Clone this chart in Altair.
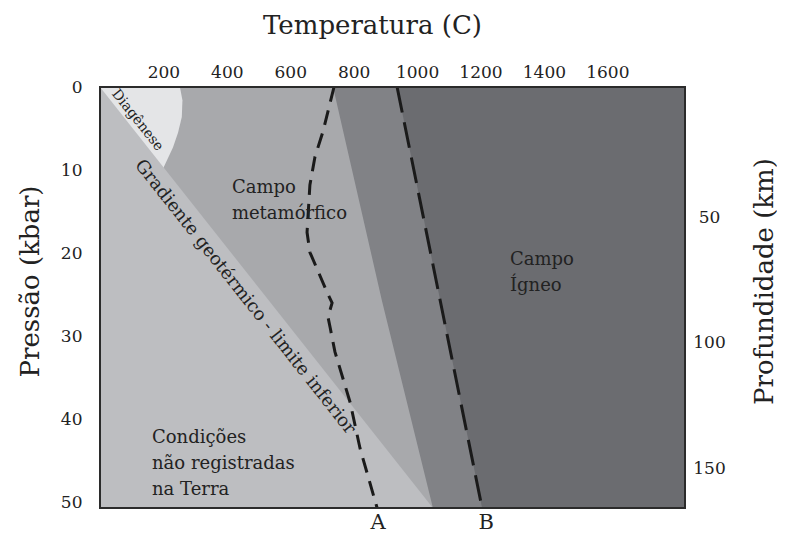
import altair as alt
import pandas as pd

FONT = "DejaVu Serif"
INK = "#222222"

# ---- scales / ticks ----
T_MAX = 1845
P_MAX = 50.7
temp_ticks = [200, 400, 600, 800, 1000, 1200, 1400, 1600]
pressure_ticks = [0, 10, 20, 30, 40, 50]
depth_ticks = [50, 100, 150]
depth_domain = [-1.8, 165.9]

# ---- region boundaries (temperature as function of pressure) ----
grad_P = [0, 50.7]
grad_T = [0, 1050]

meta_P = [0, 25.7, 50.7]
meta_T = [735, 889, 1050]

lineB_P = [0, 50.7]
lineB_T = [937, 1205]

diag_P = [0, 1.6, 3.6, 5.5, 7.3, 9.8]
diag_T = [252, 260, 258, 246, 230, 199]

lineA_P = [0, 5.4, 8.4, 11.8, 17.5, 19.9, 24.7, 26.0, 27.7, 29.0, 31.9, 38.0, 43.5, 50.7]
lineA_T = [738, 703, 678, 662, 653, 662, 716, 732, 719, 726, 741, 789, 820, 874]

# ---- labels ----
region_text = ["Campo\nmetamórfico", "Campo\nÍgneo", "Condições\nnão registradas\nna Terra"]
region_T = [416, 1293, 164]
region_P = [12.8, 21.4, 42.9]

rot_text = ["Gradiente geotérmico - limite inferior", "Diagênese"]
rot_T = [457, 118]
rot_P = [25.3, 4.0]
rot_size = [18, 14]

ab_text = ["A", "B"]
ab_T = [877, 1218]

C_LIGHT = "#bdbec1"
C_MED = "#a8a9ac"
C_DARK = "#818286"
C_DARKEST = "#6b6c70"
C_DIAG = "#e4e5e7"

xs = alt.Scale(domain=[0, T_MAX], nice=False, zero=False)
ys = alt.Scale(domain=[0, P_MAX], reverse=True, nice=False, zero=False)

xaxis = alt.Axis(orient="top", values=temp_ticks, format="d", ticks=False, domain=False, grid=False,
                 labelFont=FONT, labelFontSize=17, labelColor=INK, labelPadding=6,
                 labelFlush=False, labelOverlap=False,
                 title="Temperatura (C)", titleFont=FONT, titleFontSize=26,
                 titleFontWeight="normal", titleColor=INK,
                 titleX=272, titleY=-62, titleAlign="center", titleBaseline="middle")
yaxis = alt.Axis(orient="left", values=pressure_ticks, format="d", ticks=False, domain=False, grid=False,
                 labelFont=FONT, labelFontSize=17, labelColor=INK, labelPadding=18,
                 labelFlush=False, labelOverlap=False,
                 title="Pressão (kbar)", titleFont=FONT, titleFontSize=26,
                 titleFontWeight="normal", titleColor=INK, titleAngle=270,
                 titleX=-70, titleY=194, titleAlign="center", titleBaseline="middle")


def X(field="T"):
    return alt.X(f"{field}:Q", scale=xs, axis=xaxis)


def Y():
    return alt.Y("P:Q", scale=ys, axis=yaxis)


def region(P, T, color):
    df = pd.DataFrame({"P": P, "T": T, "T0": [0] * len(P)})
    return alt.Chart(df).mark_area(orient="horizontal", color=color, opacity=1).encode(
        x=X(), x2=alt.X2("T0:Q"), y=Y())


def dashed(P, T, dash):
    df = pd.DataFrame({"P": P, "T": T, "i": list(range(len(P)))})
    return alt.Chart(df).mark_line(color="#1a1a1a", strokeWidth=3, strokeDash=dash).encode(
        x=X(), y=Y(), order=alt.Order("i:Q"))


dark = region(lineB_P, lineB_T, C_DARK)
med = region(meta_P, meta_T, C_MED)
diag = region(diag_P, diag_T, C_DIAG)
light = region(grad_P, grad_T, C_LIGHT)

lineA = dashed(lineA_P, lineA_T, [15, 9])
lineB = dashed(lineB_P, lineB_T, [26, 10])

reg_df = pd.DataFrame({"T": region_T, "P": region_P, "label": region_text})
reg_labels = alt.Chart(reg_df).mark_text(
    align="left", baseline="alphabetic", font=FONT, fontSize=18, color=INK,
    lineBreak="\n", lineHeight=26).encode(x=X(), y=Y(), text="label:N")

rot_df = pd.DataFrame({"T": rot_T, "P": rot_P, "label": rot_text, "size": rot_size})
rot_labels = alt.Chart(rot_df).mark_text(
    align="center", baseline="middle", font=FONT, color=INK, angle=51.7).encode(
    x=X(), y=Y(), text="label:N", size=alt.Size("size:Q", scale=None, legend=None))

ab_df = pd.DataFrame({"T": ab_T, "P": [P_MAX, P_MAX], "label": ab_text})
ab_labels = alt.Chart(ab_df).mark_text(
    align="center", baseline="middle", font=FONT, fontSize=21, color=INK, dy=15).encode(
    x=X(), y=Y(), text="label:N")

frame = alt.Chart(pd.DataFrame({"k": [0]})).mark_rect(
    filled=False, stroke="#2b2b2b", strokeWidth=2).encode(
    x=alt.value(0), x2=alt.value("width"), y=alt.value(0), y2=alt.value("height"))

inner = alt.layer(dark, med, diag, light, lineA, lineB, reg_labels, rot_labels, ab_labels, frame)

depth_df = pd.DataFrame({"depth": depth_ticks})
depth_layer = alt.Chart(depth_df).mark_point(opacity=0).encode(
    y=alt.Y("depth:Q",
            scale=alt.Scale(domain=depth_domain, reverse=True, nice=False, zero=False),
            axis=alt.Axis(orient="right", values=depth_ticks, format="d", ticks=False, domain=False,
                          grid=False, labelFont=FONT, labelFontSize=17, labelColor=INK,
                          labelPadding=24, labelAlign="center", labelFlush=False, labelOverlap=False,
                          title="Profundidade (km)", titleFont=FONT, titleFontSize=26,
                          titleFontWeight="normal", titleColor=INK, titleAngle=270,
                          titleX=79, titleY=194, titleAlign="center", titleBaseline="middle")))

chart = alt.layer(inner, depth_layer).resolve_scale(y="independent").properties(
    width=585, height=421,
    padding={"left": 92, "top": 79, "right": 92, "bottom": 28},
    autosize=alt.AutoSizeParams(type="none"),
    background="white",
).configure_view(fill=C_DARKEST, stroke=None)

chart.save("out.html", embed_options={"renderer": "svg", "actions": False})
